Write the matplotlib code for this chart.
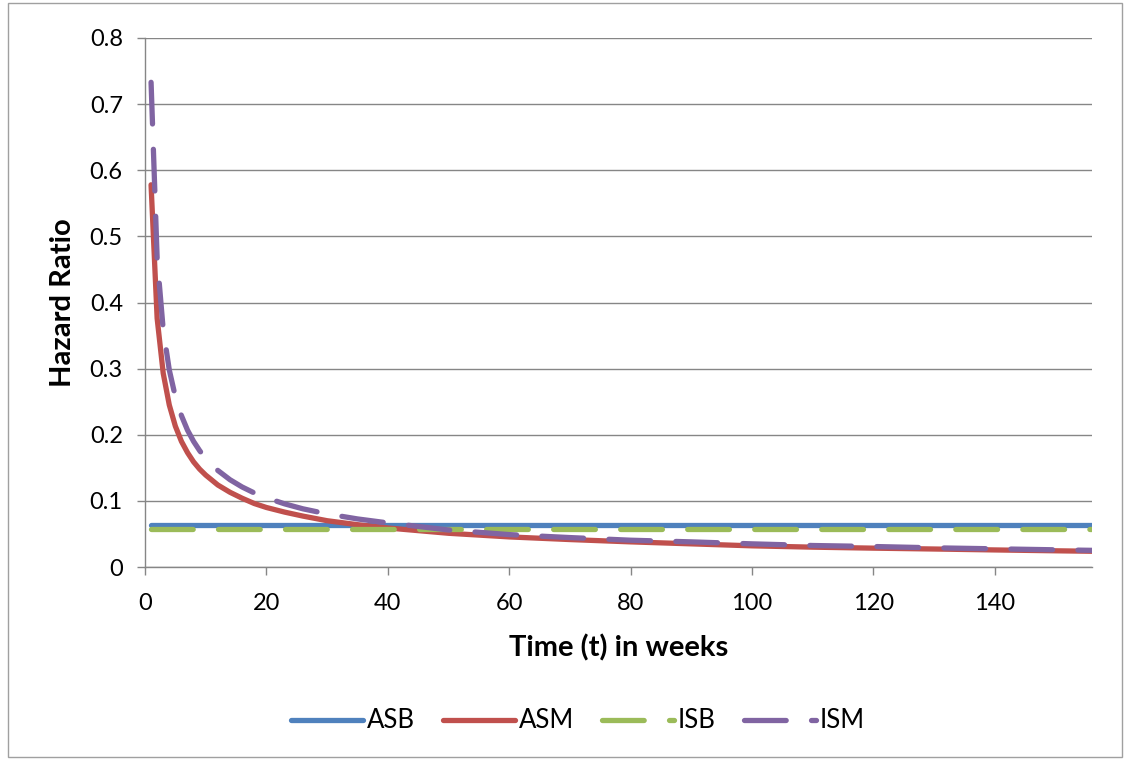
import matplotlib
matplotlib.use("Agg")
import matplotlib.pyplot as plt
from matplotlib.patches import Rectangle

# Weekly time points (weeks) at which the hazard ratios were tabulated
weeks = [1, 2, 3, 4, 5, 6, 7, 8, 9, 10, 12, 14, 16, 18, 20, 23, 26, 30, 35, 40,
         50, 60, 70, 80, 90, 100, 110, 120, 130, 140, 150, 156]

# Constant-hazard models
asb_value = 0.064
isb_value = 0.058

# Time-varying hazard models
asm = [0.578, 0.376, 0.293, 0.245, 0.213, 0.190, 0.173, 0.159, 0.148, 0.139,
       0.124, 0.113, 0.104, 0.096, 0.090, 0.083, 0.077, 0.070, 0.064, 0.059,
       0.051, 0.0455, 0.0415, 0.038, 0.035, 0.032, 0.030, 0.0285, 0.0272,
       0.0258, 0.0245, 0.0238]
ism = [0.733, 0.467, 0.359, 0.298, 0.2575, 0.229, 0.207, 0.190, 0.176, 0.164,
       0.146, 0.132, 0.121, 0.112, 0.1046, 0.0955, 0.088, 0.0803, 0.0727,
       0.0667, 0.056, 0.049, 0.0445, 0.0405, 0.038, 0.035, 0.0325, 0.031,
       0.029, 0.0275, 0.026, 0.0252]

asb = [asb_value] * len(weeks)
isb = [isb_value] * len(weeks)

series_names = ["ASB", "ASM", "ISB", "ISM"]
colors = ["#4F81BD", "#C0504D", "#9BBB59", "#8064A2"]

x_ticks = [0, 20, 40, 60, 80, 100, 120, 140]
y_ticks = [0, 0.1, 0.2, 0.3, 0.4, 0.5, 0.6, 0.7, 0.8]
y_tick_labels = ["0", "0.1", "0.2", "0.3", "0.4", "0.5", "0.6", "0.7", "0.8"]

plt.rcParams["font.family"] = ["Lato", "DejaVu Sans"]

fig = plt.figure(figsize=(11.3, 7.6), dpi=100)
ax = fig.add_axes([145 / 1130, 1 - 567 / 760, (1092 - 145) / 1130, (567 - 38) / 760])

lw = 3.8
dash_pattern = (7.9, 4.8)
ax.plot(weeks, asb, color=colors[0], lw=lw, solid_capstyle="round", label=series_names[0], zorder=3)
ax.plot(weeks, asm, color=colors[1], lw=lw, solid_capstyle="round", label=series_names[1], zorder=4)
ax.plot(weeks, isb, color=colors[2], lw=lw, dashes=dash_pattern, dash_capstyle="round",
        label=series_names[2], zorder=5)
ax.plot(weeks, ism, color=colors[3], lw=lw, dashes=dash_pattern, dash_capstyle="round",
        label=series_names[3], zorder=6)

ax.set_xlim(0, 156)
ax.set_ylim(0, 0.8)
ax.set_xticks(x_ticks)
ax.set_yticks(y_ticks)
ax.set_yticklabels(y_tick_labels)

grid_color = "#868686"
ax.yaxis.grid(True, color=grid_color, lw=1.0)
ax.set_axisbelow(True)
for side in ["top", "right"]:
    ax.spines[side].set_visible(False)
for side in ["left", "bottom"]:
    ax.spines[side].set_color(grid_color)
    ax.spines[side].set_linewidth(1.0)

ax.tick_params(axis="both", colors=grid_color, labelcolor="black", labelsize=17,
               length=6, width=1.0, direction="out")
ax.tick_params(axis="x", pad=13)
ax.tick_params(axis="y", pad=10)

ax.set_xlabel("Time (t) in weeks", fontsize=21, fontweight="bold", labelpad=14)
ax.set_ylabel("Hazard Ratio", fontsize=21, fontweight="bold", labelpad=10)

leg = fig.legend(loc="center", bbox_to_anchor=(578 / 1130, 1 - 721 / 760), ncol=4,
                 frameon=False, fontsize=18.5, handlelength=2.8, handletextpad=0.15,
                 columnspacing=1.1)

# Chart-area border
fig.patches.append(Rectangle((8 / 1130, 3 / 760), 1114 / 1130, 754 / 760,
                             transform=fig.transFigure, fill=False,
                             edgecolor="#A0A0A0", lw=1.0))

fig.savefig("out.png", dpi=100)
